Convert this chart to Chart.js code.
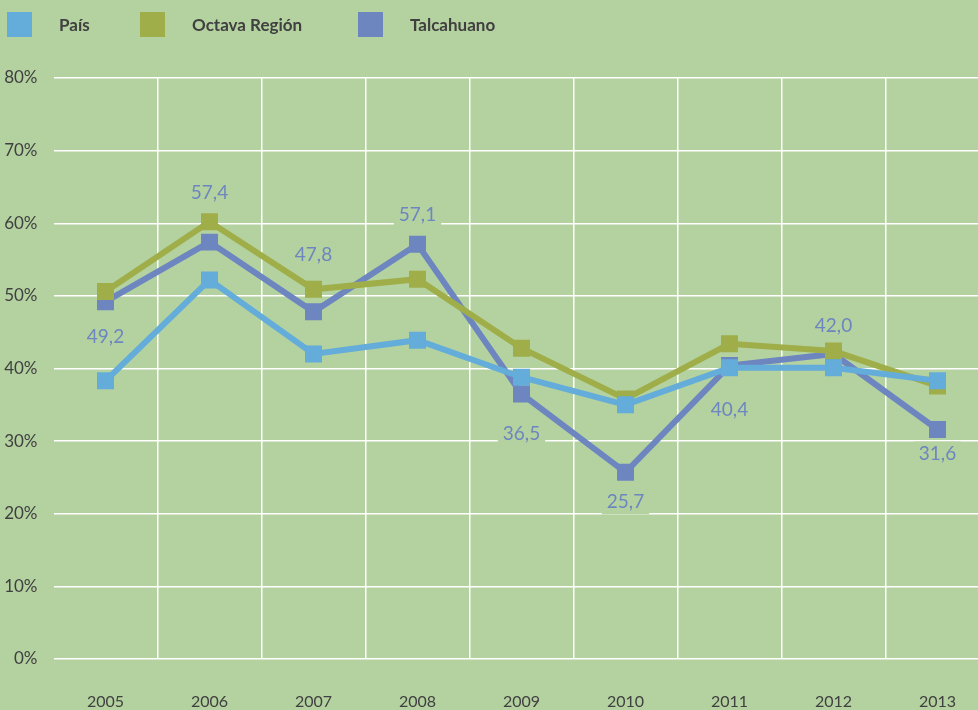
<!DOCTYPE html>
<html lang="es">
<head>
<meta charset="UTF-8">
<title>País / Octava Región / Talcahuano</title>
<script src="https://cdn.jsdelivr.net/npm/chart.js"></script>
<style>
  html, body { margin: 0; padding: 0; background: #b4d1a0; overflow: hidden; }
  #wrap { position: relative; width: 978px; height: 710px; overflow: hidden; }
  #legend { position: absolute; left: 0; top: 0; height: 50px; width: 978px; font-family: Lato, "Noto Sans", sans-serif; font-weight: bold; font-size: 17px; color: #404040; }
  .item { position: absolute; top: 12px; height: 25px; line-height: 25px; }
  .box { position: absolute; left: 0; top: 0; width: 25px; height: 25px; }
  .txt { position: absolute; left: 52px; top: 0; white-space: nowrap; }
</style>
</head>
<body>
<div id="wrap">
  <canvas id="chart" width="978" height="710"></canvas>
  <div id="legend"></div>
</div>
<script>
  // data
  var years = ['2005', '2006', '2007', '2008', '2009', '2010', '2011', '2012', '2013'];
  var pais = [38.3, 52.2, 42.0, 43.9, 38.8, 35.0, 40.1, 40.1, 38.3];
  var octava = [50.6, 60.2, 50.9, 52.3, 42.8, 35.8, 43.4, 42.4, 37.6];
  var talcahuano = [49.2, 57.4, 47.8, 57.1, 36.5, 25.7, 40.4, 42.0, 31.6];
  var seriesNames = ['País', 'Octava Región', 'Talcahuano'];
  var seriesColors = ['#64acd9', '#9fae48', '#6d86c0'];
  var yTicks = [0, 10, 20, 30, 40, 50, 60, 70, 80];

  // where each Talcahuano label sits relative to its point (px)
  var labelShift = [35, -49, -57, -29, 40, 30, 44, -28, 24];

  var bg = '#b4d1a0';
  var bandWidth = 104; // the original plot runs past the right edge of the picture

  // html legend
  var legendX = [7, 140, 358];
  var legend = document.getElementById('legend');
  seriesNames.forEach(function (name, i) {
    var d = document.createElement('div');
    d.className = 'item';
    d.style.left = legendX[i] + 'px';
    d.innerHTML = '<div class="box" style="background:' + seriesColors[i] + '"></div><div class="txt">' + name + '</div>';
    legend.appendChild(d);
  });

  // stretch the x scale past the canvas edge, like the cropped original
  var widenX = {
    id: 'widenX',
    afterLayout: function (chart) {
      var s = chart.scales.x;
      s.right = s.left + bandWidth * years.length;
      s.width = s.right - s.left;
      chart.chartArea.right = s.right;
      chart.chartArea.width = s.width;
      s.configure();
    }
  };

  // value labels for Talcahuano, drawn before the lines so they only hide the grid
  var valueLabels = {
    id: 'valueLabels',
    beforeDatasetsDraw: function (chart) {
      var ctx = chart.ctx;
      var meta = chart.getDatasetMeta(2);
      ctx.save();
      ctx.font = '19px Lato, "Noto Sans", sans-serif';
      ctx.textAlign = 'center';
      ctx.textBaseline = 'middle';
      meta.data.forEach(function (pt, i) {
        var txt = talcahuano[i].toFixed(1).replace('.', ',');
        var x = pt.x;
        var y = pt.y + labelShift[i];
        var w = ctx.measureText(txt).width + 10;
        ctx.fillStyle = bg;
        ctx.fillRect(x - w / 2, y - 12, w, 24);
        ctx.fillStyle = seriesColors[2];
        ctx.fillText(txt, x, y);
      });
      ctx.restore();
    }
  };

  function ds(label, values, color) {
    return {
      label: label,
      data: values,
      borderColor: color,
      backgroundColor: color,
      borderWidth: 6,
      pointStyle: 'rect',
      pointRadius: 12,
      pointBorderWidth: 0,
      pointBackgroundColor: color,
      tension: 0,
      fill: false
    };
  }

  var config = {
    type: 'line',
    data: {
      labels: years,
      datasets: [
        ds(seriesNames[0], pais, seriesColors[0]),
        ds(seriesNames[1], octava, seriesColors[1]),
        ds(seriesNames[2], talcahuano, seriesColors[2])
      ]
    },
    options: {
      responsive: false,
      animation: false,
      layout: { padding: { top: 78, left: 4, right: 0, bottom: 0 } },
      plugins: {
        legend: { display: false },
        tooltip: { enabled: false }
      },
      scales: {
        x: {
          offset: true,
          grid: {
            offset: true,
            drawTicks: false,
            color: function (c) { return c.index === 0 ? 'rgba(0,0,0,0)' : '#ffffff'; },
            lineWidth: 1.5
          },
          border: { display: false },
          ticks: {
            color: '#404040',
            font: { family: 'Lato, "Noto Sans", sans-serif', size: 16 },
            padding: 33,
            maxRotation: 0
          },
          afterFit: function (s) {
            s.height = 51;
            s.paddingLeft = 0;
            s.paddingRight = 0;
          }
        },
        y: {
          min: 0,
          max: 80,
          afterBuildTicks: function (s) { s.ticks = yTicks.map(function (v) { return { value: v }; }); },
          grid: { color: '#ffffff', lineWidth: 1.5, drawTicks: false },
          border: { display: false },
          ticks: {
            color: '#404040',
            font: { family: 'Lato, "Noto Sans", sans-serif', size: 17 },
            padding: 16,
            callback: function (v) { return v + '%'; }
          },
          afterFit: function (s) { s.width = 49.5; }
        }
      }
    },
    plugins: [widenX, valueLabels]
  };

  var chart = new Chart(document.getElementById('chart'), config);
</script>
</body>
</html>
